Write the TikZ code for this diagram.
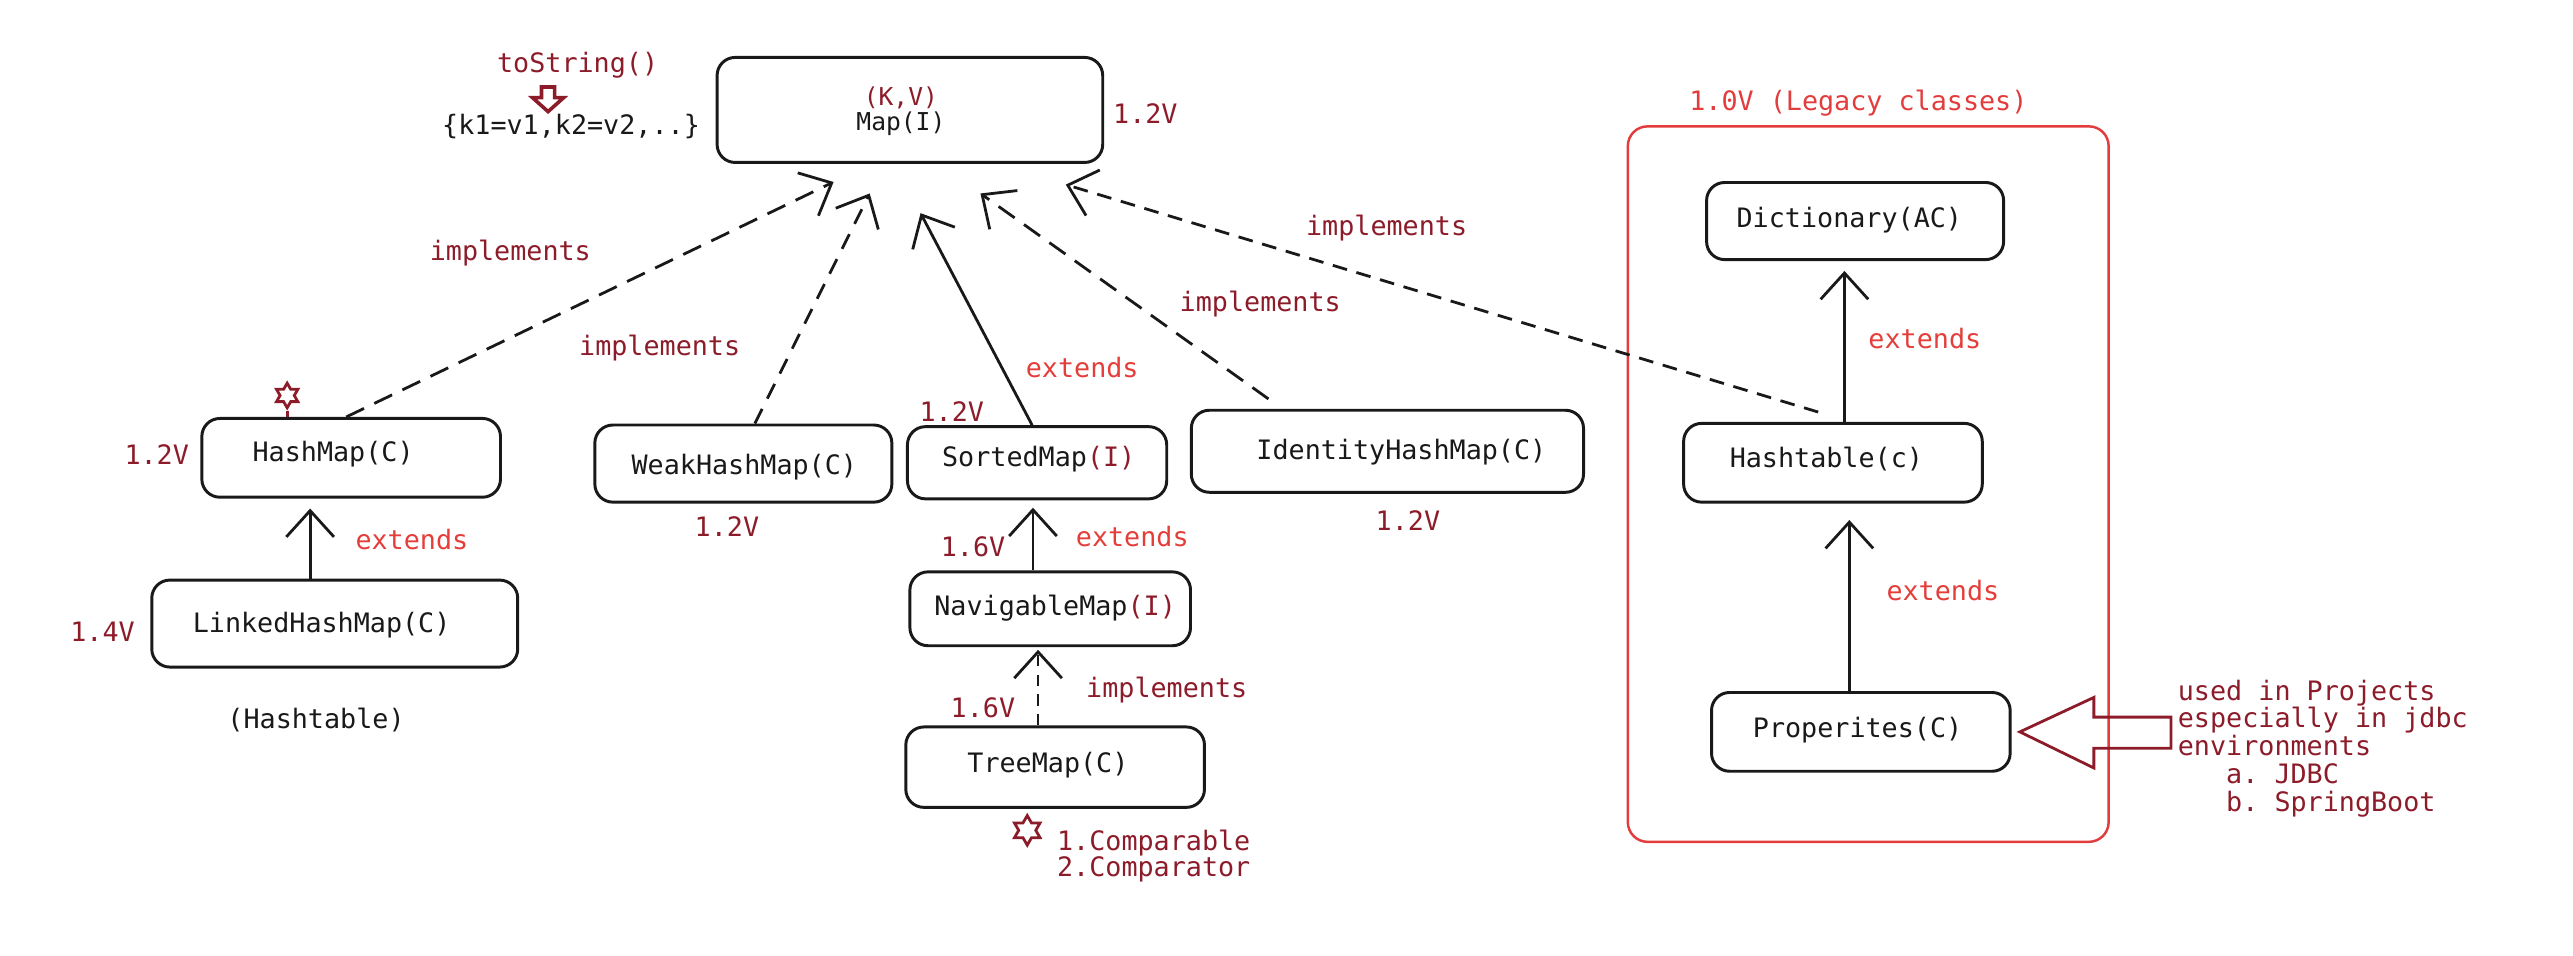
\documentclass[tikz,border=0pt]{standalone}
\usepackage{fontspec}
\setmonofont{DejaVu Sans Mono}
\usetikzlibrary{arrows.meta,shapes.geometric}
\definecolor{maroon}{RGB}{140,28,42}
\definecolor{extred}{RGB}{228,62,58}
\definecolor{boxred}{RGB}{226,60,60}
\definecolor{ink}{RGB}{25,25,25}
\begin{document}
\begin{tikzpicture}[x=1pt,y=-1pt,
  every node/.style={font=\ttfamily\fontsize{16.3}{19}\selectfont, inner sep=0pt},
  cls/.style={draw=ink, line width=1.8pt, rounded corners=11pt},
  lbl/.style={text=ink},
  ver/.style={text=maroon},
  imp/.style={text=maroon},
  ext/.style={text=extred},
  conn/.style={draw=ink, line width=1.7pt, -{Straight Barb[length=16pt,width=29pt]}},
  dsh/.style={conn, dash pattern=on 12pt off 7pt},
  dshshort/.style={conn, dash pattern=on 7pt off 5pt},
  starnode/.style={star, star points=6, star point ratio=1.73, draw=maroon, line width=1.7pt, inner sep=0pt},
  hollow/.style={draw=maroon, line width=1.7pt, line join=miter}
]
\useasboundingbox (0,0) rectangle (1568,582);

% ---------- boxes ----------
\node[cls, minimum width=235pt, minimum height=64pt] (map) at (554.5,67) {};
\node[cls, minimum width=182pt, minimum height=48pt] (hashmap) at (214,279) {};
\node[cls, minimum width=223pt, minimum height=53pt] (linked) at (204,380) {};
\node[cls, minimum width=181pt, minimum height=47pt] (weak) at (453,282.5) {};
\node[cls, minimum width=158pt, minimum height=44pt] (sorted) at (632,282) {};
\node[cls, minimum width=171pt, minimum height=45pt] (navig) at (640,371) {};
\node[cls, minimum width=182pt, minimum height=49pt] (tree) at (643,467.5) {};
\node[cls, minimum width=239pt, minimum height=50pt] (ident) at (845.5,275) {};
\node[cls, minimum width=181pt, minimum height=47pt] (dict) at (1130.5,134.7) {};
\node[cls, minimum width=182pt, minimum height=48pt] (hasht) at (1117,282) {};
\node[cls, minimum width=182pt, minimum height=48pt] (props) at (1134,446) {};

% legacy frame
\node[draw=boxred, line width=1.5pt, rounded corners=12pt, minimum width=293pt, minimum height=436pt] (legacy) at (1138.5,295) {};
\node[text=boxred] (legacylbl) at (1132.5,63) {1.0V (Legacy classes)};

% ---------- box texts ----------
\node[ver, font=\ttfamily\fontsize{15}{17}\selectfont] (kv) at (549,59.5) {(K,V)};
\node[lbl, font=\ttfamily\fontsize{15}{17}\selectfont] (mapt) at (549,75.5) {Map(I)};
\node[lbl] (hashmapt) at (203,277) {HashMap(C)};
\node[lbl] (linkedt) at (196,381) {LinkedHashMap(C)};
\node[lbl] (weakt) at (453.6,284.5) {WeakHashMap(C)};
\node[lbl] (sortedt) at (633,280) {SortedMap\textcolor{maroon}{(I)}};
\node[lbl] (navigt) at (643,370.7) {NavigableMap\textcolor{maroon}{(I)}};
\node[lbl] (treet) at (638.6,466) {TreeMap(C)};
\node[lbl] (identt) at (854,275.3) {IdentityHashMap(C)};
\node[lbl] (dictt) at (1127,134) {Dictionary(AC)};
\node[lbl] (hashtt) at (1113,280) {Hashtable(c)};
\node[lbl] (propst) at (1132,445) {Properites(C)};

% ---------- connectors ----------
\draw[dsh] ([xshift=-3pt]hashmap.north) -- ([xshift=-46.5pt,yshift=-11pt]map.south);
\draw[conn, dash pattern=on 10pt off 7pt] ([xshift=7pt]weak.north) -- ([xshift=-24.5pt,yshift=-18pt]map.south);
\draw[conn] ([xshift=-3pt]sorted.north) -- ([xshift=6.5pt,yshift=-30pt]map.south);
\draw[dsh] ([xshift=-72.5pt,yshift=6pt]ident.north) -- ([xshift=43pt,yshift=-18pt]map.south);
\draw[conn, dash pattern=on 9pt off 6pt] ([xshift=-9pt,yshift=6pt]hasht.north) -- ([xshift=95pt,yshift=-12.6pt]map.south);
\draw[conn] ([xshift=7pt]hasht.north) -- ([xshift=-6.5pt,yshift=-6pt]dict.south);
\draw[conn] ([xshift=-7pt]props.north) -- ([xshift=10pt,yshift=-10pt]hasht.south);
\draw[conn] ([xshift=-15pt]linked.north) -- ([xshift=-25pt,yshift=-6pt]hashmap.south);
\draw[conn] ([xshift=-10.5pt]navig.north) -- ([xshift=-2.5pt,yshift=-4.5pt]sorted.south);
\draw[dshshort] ([xshift=-10.4pt]tree.north) -- ([xshift=-7.4pt,yshift=-1.6pt]navig.south);

% ---------- connector labels ----------
\node[imp] (i1) at (311,154) {implements};
\node[imp] (i2) at (402,212) {implements};
\node[imp] (i3) at (768,185) {implements};
\node[imp] (i4) at (845,139) {implements};
\node[imp] (i5) at (711,420.5) {implements};
\node[ext] (e1) at (251,329) {extends};
\node[ext] (e2) at (659.5,224) {extends};
\node[ext] (e3) at (690,327) {extends};
\node[ext] (e4) at (1173,206) {extends};
\node[ext] (e5) at (1184,359.6) {extends};

% ---------- versions ----------
\node[ver] (v0) at (698,69) {1.2V};
\node[ver] (v1) at (95.5,277) {1.2V};
\node[ver] (v2) at (62.5,385) {1.4V};
\node[ver] (v3) at (443,321) {1.2V};
\node[ver] (v4) at (580,251) {1.2V};
\node[ver] (v5) at (858,317) {1.2V};
\node[ver] (v6) at (593,333) {1.6V};
\node[ver] (v7) at (599,431.5) {1.6V};

% ---------- misc texts ----------
\node[ver] (tostr) at (352,40) {toString()};
\node[lbl] (kvs) at (348,77) {\{k1=v1,k2=v2,..\}};
\draw[hollow, line width=2.2pt] (330,53) -- (338,53) -- (338,59.5) -- (343.5,59.5) -- (334,68) -- (324.5,59.5) -- (330,59.5) -- cycle;
\node[lbl] (htnote) at (192.6,438.7) {(Hashtable)};
\node[ver, anchor=west] (cmp1) at (644,513.7) {1.Comparable};
\node[ver, anchor=west] (cmp2) at (644,530) {2.Comparator};

% stars
\node[starnode, minimum size=15pt] (star1) at (175,241) {};
\draw[maroon, line width=1.7pt] (star1.south) -- (star1.south |- hashmap.north);
\node[starnode, minimum size=18pt] (star2) at (626,506) {};

% big hollow arrow and note
\draw[hollow] ([xshift=5pt]props.east) -- (1276,425) -- (1276,437) -- (1323,437) -- (1323,456) -- (1276,456) -- (1276,468) -- cycle;
\node[ver, anchor=north west, align=left, font=\ttfamily\fontsize{16.3}{17}\selectfont] (note) at (1327,414) {used in Projects\\especially in jdbc\\environments\\\phantom{aaa}a. JDBC\\\phantom{aaa}b. SpringBoot};
\end{tikzpicture}
\end{document}
